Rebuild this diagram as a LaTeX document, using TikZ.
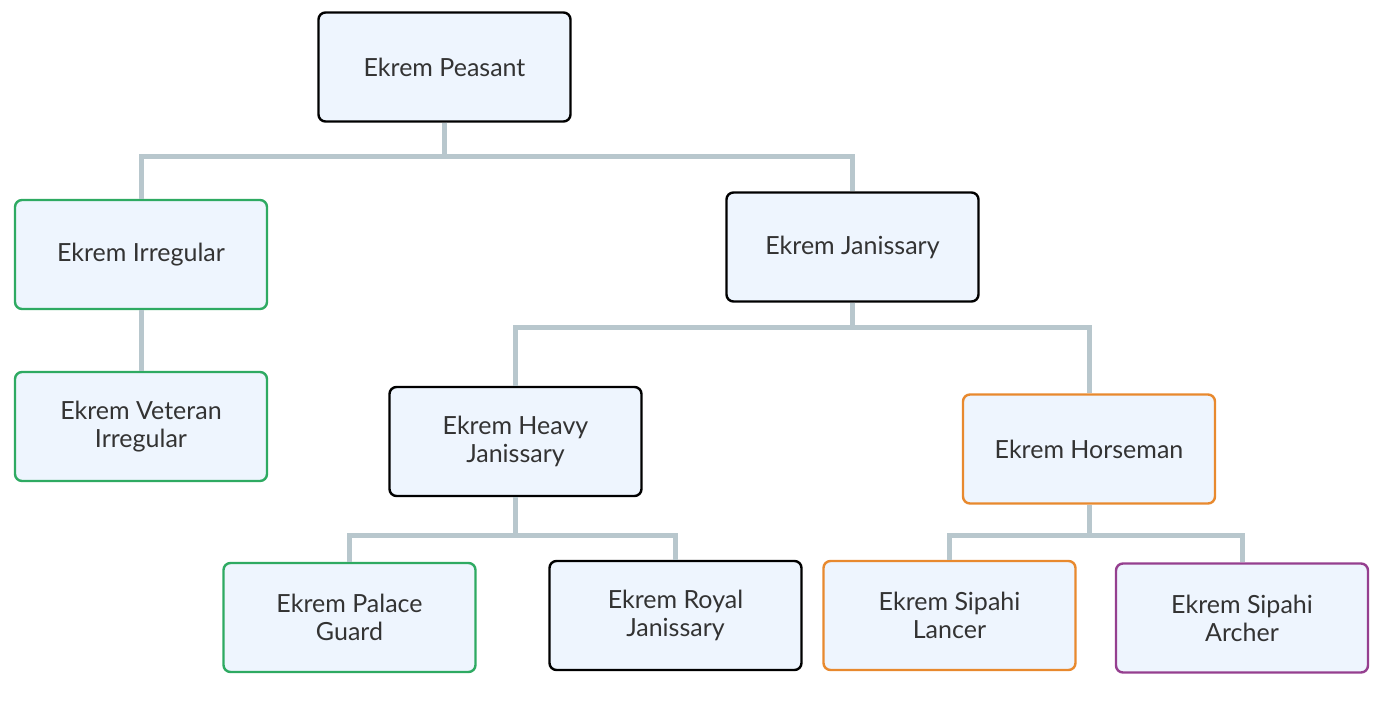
\documentclass[tikz,border=0pt]{standalone}
\usepackage{fontspec}
\setmainfont{Lato}
\definecolor{boxfill}{HTML}{EEF5FE}
\definecolor{linegray}{HTML}{B8C7CD}
\definecolor{txt}{HTML}{333333}
\definecolor{bgreen}{HTML}{2EAA62}
\definecolor{borange}{HTML}{E8892E}
\definecolor{bpurple}{HTML}{953F8F}
\begin{document}
\begin{tikzpicture}[x=1pt,y=-1pt,
  unit/.style={draw=black, fill=boxfill, line width=2.4pt, rounded corners=7pt,
    minimum width=252pt, minimum height=109pt, inner sep=0pt, align=center,
    text=txt, font=\fontsize{25}{28}\selectfont},
  gunit/.style={unit, draw=bgreen},
  ounit/.style={unit, draw=borange},
  punit/.style={unit, draw=bpurple},
  conn/.style={draw=linegray, line width=5pt}]
\useasboundingbox (0,0) rectangle (1385,710);
\coordinate (b1) at (0,156);
\coordinate (b2) at (0,327);
\coordinate (b3) at (0,535);
\node[unit] (peasant) at (444.5,67) {Ekrem Peasant};
\node[gunit] (irr) at (141,254.5) {Ekrem Irregular};
\node[gunit] (vet) at (141,426.5) {Ekrem Veteran\\Irregular};
\node[unit] (jan) at (852.5,247) {Ekrem Janissary};
\node[unit] (heavy) at (515.5,441.5) {Ekrem Heavy\\Janissary};
\node[ounit] (horse) at (1089,449) {Ekrem Horseman};
\node[gunit] (palace) at (349.5,617.5) {Ekrem Palace\\Guard};
\node[unit] (royal) at (675.5,615.5) {Ekrem Royal\\Janissary};
\node[ounit] (lancer) at (949.5,615.5) {Ekrem Sipahi\\Lancer};
\node[punit] (archer) at (1242,618) {Ekrem Sipahi\\Archer};
\draw[conn] (peasant.south) -- (peasant.south |- b1) -| (irr.north);
\draw[conn] (peasant.south) -- (peasant.south |- b1) -| (jan.north);
\draw[conn] (irr.south) -- (vet.north);
\draw[conn] (jan.south) -- (jan.south |- b2) -| (heavy.north);
\draw[conn] (jan.south) -- (jan.south |- b2) -| (horse.north);
\draw[conn] (heavy.south) -- (heavy.south |- b3) -| (palace.north);
\draw[conn] (heavy.south) -- (heavy.south |- b3) -| (royal.north);
\draw[conn] (horse.south) -- (horse.south |- b3) -| (lancer.north);
\draw[conn] (horse.south) -- (horse.south |- b3) -| (archer.north);
\end{tikzpicture}
\end{document}
